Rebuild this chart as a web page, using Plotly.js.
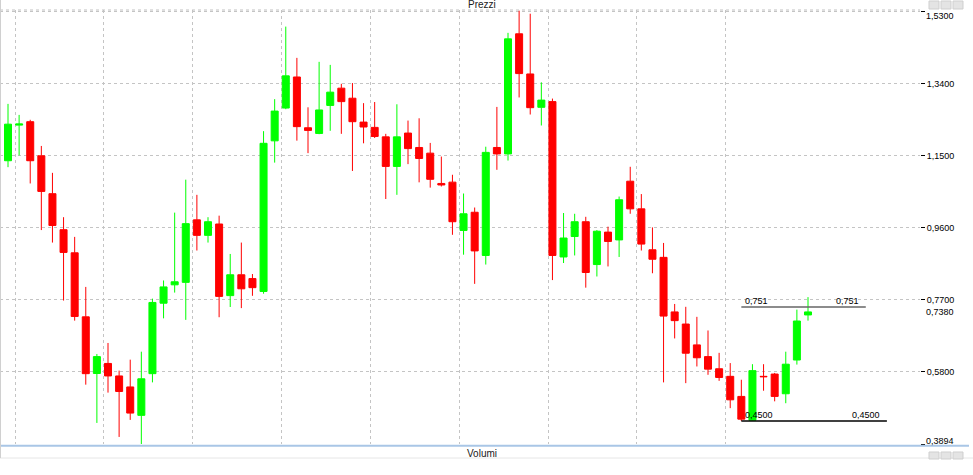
<!DOCTYPE html>
<html>
<head>
<meta charset="utf-8">
<script src="https://cdn.plot.ly/plotly-3.0.1.min.js"></script>
<style>
  html, body { margin: 0; padding: 0; background: #ffffff; }
  #chart { width: 973px; height: 475px; }
</style>
</head>
<body>
<div id="chart"></div>
<script>
// ---- Data ----
var openVals  = [1.214, 1.137, 1.231, 1.240, 1.150, 1.050, 0.955, 0.894, 0.725, 0.5755,
                 0.602, 0.569, 0.540, 0.465, 0.575, 0.761, 0.8095, 0.816, 0.981, 0.940,
                 0.970, 0.781, 0.836, 0.826, 0.792, 1.1895, 1.276, 1.358, 1.224, 1.209,
                 1.283, 1.3285, 1.302, 1.239, 1.225, 1.200, 1.122, 1.210, 1.172, 1.157,
                 1.077, 1.0805, 0.953, 1.001, 0.887, 1.172, 1.155, 1.472, 1.366, 1.278,
                 1.293, 0.883, 0.937, 0.976, 0.863, 0.9486, 0.928, 1.083, 1.010, 0.902,
                 0.882, 0.738, 0.706, 0.651, 0.620, 0.588, 0.568, 0.515, 0.452, 0.568,
                 0.574, 0.522, 0.611, 0.730];
var highVals  = [1.220, 1.287, 1.258, 1.245, 1.176, 1.105, 0.988, 0.936, 0.804, 0.627,
                 0.656, 0.583, 0.612, 0.633, 0.773, 0.821, 1.000, 1.087, 1.047, 0.988,
                 0.992, 0.891, 0.921, 0.838, 1.215, 1.2995, 1.491, 1.4085, 1.278, 1.398,
                 1.390, 1.340, 1.342, 1.289, 1.292, 1.208, 1.286, 1.243, 1.249, 1.184,
                 1.148, 1.100, 1.0505, 1.0135, 1.174, 1.279, 1.4745, 1.533, 1.525, 1.344,
                 1.301, 0.999, 0.997, 0.989, 0.954, 0.963, 1.0425, 1.121, 1.049, 0.961,
                 0.920, 0.759, 0.7515, 0.725, 0.689, 0.630, 0.603, 0.559, 0.600, 0.600,
                 0.577, 0.633, 0.744, 0.777];
var lowVals   = [1.132, 1.120, 1.151, 1.077, 0.954, 0.921, 0.768, 0.715, 0.546, 0.445,
                 0.525, 0.408, 0.453, 0.389, 0.552, 0.721, 0.789, 0.717, 0.900, 0.921,
                 0.724, 0.751, 0.748, 0.7805, 0.786, 1.132, 1.273, 1.190, 1.157, 1.207,
                 1.216, 1.208, 1.110, 1.183, 1.197, 1.036, 1.047, 1.128, 1.080, 1.066,
                 1.069, 0.9415, 0.889, 0.812, 0.863, 1.113, 1.1375, 1.304, 1.259, 1.230,
                 0.822, 0.867, 0.887, 0.802, 0.8315, 0.858, 0.883, 0.997, 0.900, 0.840,
                 0.552, 0.668, 0.550, 0.594, 0.572, 0.556, 0.484, 0.450, 0.451, 0.530,
                 0.502, 0.497, 0.599, 0.715];
var closeVals = [1.1375, 1.2335, 1.234, 1.137, 1.056, 0.966, 0.895, 0.726, 0.575, 0.620,
                 0.569, 0.528, 0.471, 0.5615, 0.763, 0.804, 0.8175, 0.971, 0.940, 0.976,
                 0.779, 0.836, 0.799, 0.802, 1.183, 1.268, 1.361, 1.227, 1.217, 1.271,
                 1.318, 1.293, 1.240, 1.226, 1.201, 1.122, 1.200, 1.169, 1.143, 1.088,
                 1.073, 0.976, 0.997, 0.899, 1.159, 1.155, 1.4586, 1.367, 1.277, 1.297,
                 0.887, 0.933, 0.976, 0.842, 0.951, 0.924, 1.034, 1.010, 0.917, 0.877,
                 0.727, 0.715, 0.629, 0.617, 0.587, 0.565, 0.506, 0.455, 0.583, 0.567,
                 0.515, 0.600, 0.714, 0.738];
var firstIndex = -1; // first candle is partly cut by the left edge

// price axis
var priceTicks = [1.53, 1.34, 1.15, 0.96, 0.77, 0.58, 0.3894];
var edgeTicks = [1.53, 0.3894];   // labels nudged inside the panel
var lastPrice = 0.738;

// horizontal level lines (drawn on the right side)
var levelValues = [0.751, 0.45];
var levelLabels = ["0,751", "0,4500"];
var levelStart  = [66, 66];
var levelEnd    = [77.2, 79.1];

// vertical grid positions (candle index units)
var gridX = [0.63, 8.6, 16.6, 24.6, 32.6, 40.6, 48.6, 56.6, 64.6];

// ---- Build chart ----
var xIdx = openVals.map(function (_, i) { return firstIndex + i; });
function fmt(v) { return v.toFixed(4).replace('.', ','); }

var W = 973, H = 475, ML = 0, MR = 53, MT = 10, MB = 31;
var PW = W - ML - MR, PH = H - MT - MB;
function paperX(px) { return (px - ML) / PW; }
function paperY(py) { return (H - MB - py) / PH; }

var traces = [{
  type: 'candlestick',
  x: xIdx, open: openVals, high: highVals, low: lowVals, close: closeVals,
  increasing: { line: { color: '#00ff00', width: 1 }, fillcolor: '#00ff00' },
  decreasing: { line: { color: '#ff0000', width: 1 }, fillcolor: '#ff0000' },
  whiskerwidth: 0,
  showlegend: false,
  hoverinfo: 'skip'
}];

var lvlColors = ['#666666', '#000000'];
levelValues.forEach(function (v, i) {
  traces.push({
    type: 'scatter', mode: 'lines',
    x: [levelStart[i], levelEnd[i]], y: [v, v],
    line: { color: lvlColors[i], width: 1.5 },
    showlegend: false, hoverinfo: 'skip'
  });
});

var annFont = { family: 'Liberation Sans, Arial, sans-serif', size: 9, color: '#000000' };
var annotations = [];
levelValues.forEach(function (v, i) {
  annotations.push({ x: levelStart[i] + 0.15, y: v, xref: 'x', yref: 'y', text: levelLabels[i],
    showarrow: false, xanchor: 'left', yanchor: 'bottom', yshift: -1, font: annFont });
  annotations.push({ x: levelEnd[i] - 0.4, y: v, xref: 'x', yref: 'y', text: levelLabels[i],
    showarrow: false, xanchor: 'right', yanchor: 'bottom', yshift: -1, font: annFont });
});
annotations.push({ x: 1, xref: 'paper', xanchor: 'left', xshift: 4, y: lastPrice, yref: 'y',
  text: fmt(lastPrice), showarrow: false, font: annFont });
// edge tick labels, shifted inward as in the original
annotations.push({ x: 1, xref: 'paper', xanchor: 'left', xshift: 4, y: edgeTicks[0], yref: 'y',
  yshift: -4, text: fmt(edgeTicks[0]), showarrow: false, font: annFont });
annotations.push({ x: 1, xref: 'paper', xanchor: 'left', xshift: 4, y: edgeTicks[1], yref: 'y',
  yshift: 3.5, text: fmt(edgeTicks[1]), showarrow: false, font: annFont });
annotations.push({ x: paperX(482), xref: 'paper', y: paperY(4.5), yref: 'paper', text: 'Prezzi',
  showarrow: false, xanchor: 'center', yanchor: 'middle',
  font: { family: 'Liberation Sans, Arial, sans-serif', size: 10, color: '#202020' } });
annotations.push({ x: paperX(482), xref: 'paper', y: paperY(453.5), yref: 'paper', text: 'Volumi',
  showarrow: false, xanchor: 'center', yanchor: 'middle',
  font: { family: 'Liberation Sans, Arial, sans-serif', size: 10, color: '#202020' } });

var shapes = [
  { type: 'line', xref: 'paper', yref: 'paper', x0: 0, x1: 1, y0: 1, y1: 1,
    line: { color: '#c0c0c0', width: 1, dash: 'dot' } },
  { type: 'line', xref: 'paper', yref: 'paper', x0: paperX(0), x1: paperX(969), y0: paperY(445.8), y1: paperY(445.8),
    line: { color: '#a9c6e6', width: 2 } },
  { type: 'line', xref: 'paper', yref: 'paper', x0: paperX(0), x1: paperX(973), y0: paperY(458), y1: paperY(458),
    line: { color: '#e6e6e6', width: 1 } },
  { type: 'line', xref: 'paper', yref: 'paper', x0: paperX(0.5), x1: paperX(0.5), y0: paperY(0), y1: paperY(458),
    line: { color: '#d0d0d0', width: 1 } }
];
[[1, 9], [452, 459]].forEach(function (yy) {
  [929, 941, 953].forEach(function (bx) {
    shapes.push({ type: 'rect', xref: 'paper', yref: 'paper',
      x0: paperX(bx), x1: paperX(bx + 10), y0: paperY(yy[0]), y1: paperY(yy[1]),
      fillcolor: '#e4e4e4', line: { color: '#cfcfcf', width: 1 } });
  });
});

var layout = {
  width: W, height: H,
  margin: { l: ML, r: MR, t: MT, b: MB, pad: 0 },
  paper_bgcolor: '#ffffff', plot_bgcolor: '#ffffff',
  boxgap: 0.1,
  xaxis: {
    range: [-0.72, 82.08], rangeslider: { visible: false },
    tickmode: 'array', tickvals: gridX, showticklabels: false, ticks: '',
    showgrid: true, gridcolor: '#c4c4c4', griddash: 'dot', gridwidth: 1,
    zeroline: false, showline: false, fixedrange: true
  },
  yaxis: {
    side: 'right', range: [0.3894, 1.5348],
    tickmode: 'array', tickvals: priceTicks,
    ticktext: priceTicks.map(function (v) { return edgeTicks.indexOf(v) >= 0 ? '' : fmt(v); }),
    ticks: 'outside', ticklen: 4, tickcolor: '#000000', tickwidth: 1,
    tickfont: { family: 'Liberation Sans, Arial, sans-serif', size: 9, color: '#000000' },
    showgrid: true, gridcolor: '#c4c4c4', griddash: 'dot', gridwidth: 1,
    zeroline: false, showline: false, fixedrange: true
  },
  annotations: annotations,
  shapes: shapes,
  showlegend: false
};

Plotly.newPlot('chart', traces, layout, { staticPlot: true, displayModeBar: false });
</script>
</body>
</html>
